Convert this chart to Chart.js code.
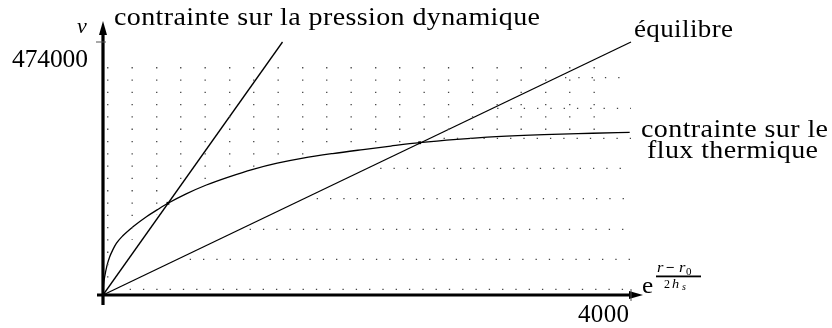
<!DOCTYPE html>
<html>
<head>
<meta charset="utf-8">
<script src="https://cdn.jsdelivr.net/npm/chart.js@4/dist/chart.umd.min.js"></script>
<style>
html,body{margin:0;padding:0;background:#fff;}
#wrap{width:832px;height:328px;}
</style>
</head>
<body>
<div id="wrap"><canvas id="c" width="832" height="328"></canvas></div>
<script>
// ---- data ----
const xMax = 4000;
const yMax = 474000;
const xTickValues = [4000];
const xTickLabels = ['4000'];
const yTickValues = [474000];
const yTickLabels = ['474000'];

// contrainte sur le flux thermique
const fluxX = [0, 4, 13, 30, 51, 75, 101, 150, 227, 329, 410, 492, 630, 783, 950, 1136, 1320, 1515, 1740, 1970, 2180, 2399, 2680, 2980, 3340, 3710, 3990];
const fluxV = [0, 19000, 34300, 55000, 71800, 85000, 96700, 111000, 127900, 146700, 159500, 171800, 189500, 206100, 221000, 235500, 247000, 256500, 265000, 272500, 279000, 285300, 291500, 296600, 300500, 303000, 304800];
// contrainte sur la pression dynamique
const pressX = [0, 1360];
const pressV = [0, 474000];
// équilibre
const equilX = [0, 4000];
const equilV = [0, 474000];
// intersections
const crossX = [492, 2399];
const crossV = [171800, 285300];

// dotted hatch : vertical columns
const colX = [36, 221, 407, 589, 774, 960, 1142, 1327, 1513, 1695, 1880, 2066, 2248, 2433, 2618, 2800, 2986, 3168, 3354, 3536, 3721];
const colTop = [427000, 427000, 427000, 427000, 427000, 427000, 427000, 427000, 427000, 427000, 427000, 427000, 427000, 427000, 427000, 427000, 427000, 427000, 427000, 427000, 427000];
const colBottom = [24400, 103000, 150000, 204000, 215000, 226000, 240000, 252000, 262000, 268000, 275000, 280000, 286000, 290000, 295000, 298000, 301000, 303000, 305000, 306000, 307000];
// dotted hatch : horizontal rows
const rowV = [10700, 66900, 123100, 180400, 237400, 293600, 349800, 407100];
const rowStart = [202, 657, 1111, 1619, 2100, 2580, 2986, 3500];
const rowEnd = [4000, 4000, 4000, 4000, 4000, 4000, 4000, 4000];

// ---- build datasets ----
const pts = (xs, ys) => xs.map((x, i) => ({x: x, y: ys[i]}));
const datasets = [];
colX.forEach((x, i) => {
  datasets.push({
    data: [{x: x, y: colTop[i]}, {x: x, y: colBottom[i]}],
    showLine: true, borderColor: '#444', borderWidth: 1.3,
    borderDash: [1.3, 11], pointRadius: 0, clip: false
  });
});
rowV.forEach((v, i) => {
  datasets.push({
    data: [{x: rowStart[i], y: v}, {x: rowEnd[i], y: v}],
    showLine: true, borderColor: '#444', borderWidth: 1.3,
    borderDash: [1.3, 12], pointRadius: 0, clip: false
  });
});
datasets.push({
  data: pts(fluxX, fluxV), showLine: true, borderColor: '#000', borderWidth: 1.3,
  pointRadius: 0, cubicInterpolationMode: 'monotone', clip: false
});
datasets.push({
  data: pts(pressX, pressV), showLine: true, borderColor: '#000', borderWidth: 1.3,
  pointRadius: 0, clip: false
});
datasets.push({
  data: pts(equilX, equilV), showLine: true, borderColor: '#000', borderWidth: 1.3,
  pointRadius: 0, clip: false
});
datasets.push({
  data: pts(crossX, crossV), showLine: false, pointRadius: 2, pointStyle: 'rect',
  backgroundColor: '#000', borderColor: '#000', borderWidth: 0, clip: false
});

// draw text to a target width: mild horizontal stretch, rest as letter spacing
function txt(ctx, s, x, y, w, font, stretch) {
  ctx.font = font;
  const sx = stretch || 1.1;
  const chars = Array.from(s);
  const widths = chars.map(c => ctx.measureText(c).width * sx);
  const total = widths.reduce((a, b) => a + b, 0);
  const gap = (w && chars.length > 1) ? (w - total) / (chars.length - 1) : 0;
  let cx = x;
  chars.forEach((c, i) => {
    ctx.save();
    ctx.translate(cx, y);
    ctx.scale(sx, 1);
    ctx.fillText(c, 0, 0);
    ctx.restore();
    cx += widths[i] + gap;
  });
}

const decor = {
  id: 'decor',
  afterDatasetsDraw(chart) {
    const ctx = chart.ctx;
    const xs = chart.scales.x, ys = chart.scales.y;
    const x0 = xs.getPixelForValue(0), y0 = ys.getPixelForValue(0);
    ctx.save();
    ctx.fillStyle = '#000';
    ctx.strokeStyle = '#000';
    // axes
    ctx.lineWidth = 3.2;
    ctx.beginPath();
    ctx.moveTo(x0, y0 + 10); ctx.lineTo(x0, 32);
    ctx.moveTo(x0 - 6, y0); ctx.lineTo(xs.getPixelForValue(xMax) + 2, y0);
    ctx.stroke();
    // arrows
    ctx.beginPath();
    ctx.moveTo(x0, 21); ctx.lineTo(x0 - 4, 35); ctx.lineTo(x0 + 4, 35); ctx.closePath(); ctx.fill();
    const xe = xs.getPixelForValue(xMax) + 12;
    ctx.beginPath();
    ctx.moveTo(xe, y0); ctx.lineTo(xe - 14, y0 - 4); ctx.lineTo(xe - 14, y0 + 4); ctx.closePath(); ctx.fill();
    // ticks
    ctx.lineWidth = 1;
    ctx.strokeStyle = '#555';
    ctx.beginPath();
    yTickValues.forEach(v => { const p = ys.getPixelForValue(v); ctx.moveTo(x0 - 7, p); ctx.lineTo(x0 + 3, p); });
    xTickValues.forEach(v => { const p = xs.getPixelForValue(v); ctx.moveTo(p, y0 - 6); ctx.lineTo(p, y0 + 6); });
    ctx.stroke();
    // tick labels
    ctx.fillStyle = '#000';
    ctx.textBaseline = 'alphabetic';
    yTickLabels.forEach((s, i) => {
      const p = ys.getPixelForValue(yTickValues[i]);
      txt(ctx, s, 12, p + 25, 76, '25px "Liberation Serif"', 1.02);
    });
    xTickLabels.forEach((s, i) => {
      const p = xs.getPixelForValue(xTickValues[i]);
      txt(ctx, s, p - 53, y0 + 27, 51, '25px "Liberation Serif"', 1.0);
    });
    // axis titles
    txt(ctx, 'v', 77, 33, 0, 'italic 20px "Liberation Serif"', 1.1);
    txt(ctx, 'e', 642, 293, 0, '23px "Liberation Serif"', 1.1);
    txt(ctx, 'r', 657, 272, 0, 'italic 15px "Liberation Serif"', 1.1);
    txt(ctx, '\u2212', 666, 272, 0, 'bold 14px "Liberation Serif"', 1.1);
    txt(ctx, 'r', 679, 272, 0, 'italic 15px "Liberation Serif"', 1.1);
    txt(ctx, '0', 686, 275, 0, '11px "Liberation Serif"', 1.0);
    ctx.fillRect(656, 275.5, 45, 1.8);
    txt(ctx, '2', 664, 288, 0, '12px "Liberation Serif"', 1.0);
    txt(ctx, 'h', 672, 288, 0, 'italic 13px "Liberation Serif"', 1.1);
    txt(ctx, 's', 682, 290, 0, 'italic 10px "Liberation Serif"', 1.0);
    // curve labels
    txt(ctx, 'contrainte sur la pression dynamique', 114, 25, 426, '25px "Liberation Serif"', 1.12);
    txt(ctx, '\u00e9quilibre', 634, 37, 99, '25px "Liberation Serif"', 1.08);
    txt(ctx, 'contrainte sur le', 641, 137, 187, '25px "Liberation Serif"', 1.12);
    txt(ctx, 'flux thermique', 647, 158, 171, '25px "Liberation Serif"', 1.12);
    ctx.restore();
  }
};

new Chart(document.getElementById('c'), {
  type: 'scatter',
  data: {datasets: datasets},
  options: {
    responsive: false,
    animation: false,
    events: [],
    layout: {padding: {left: 103, right: 201, top: 42, bottom: 33}},
    plugins: {legend: {display: false}, tooltip: {enabled: false}},
    scales: {
      x: {type: 'linear', min: 0, max: xMax, display: false},
      y: {type: 'linear', min: 0, max: yMax, display: false}
    }
  },
  plugins: [decor]
});
</script>
</body>
</html>
